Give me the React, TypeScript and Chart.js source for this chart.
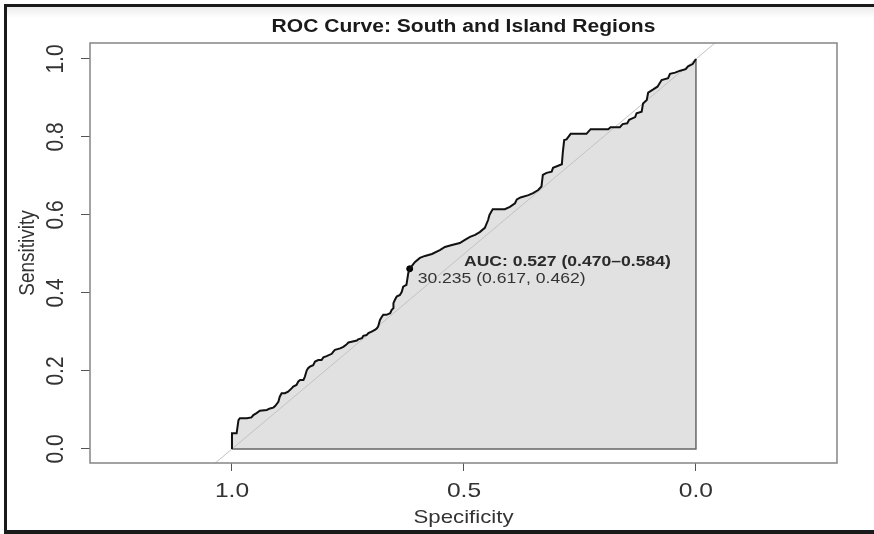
import React, { useEffect, useRef } from "react";
import { Chart, registerables } from "chart.js";

Chart.register(...registerables);

// ---- Data ----
const specificity = [
  1.0, 1.0, 0.99, 0.986, 0.983, 0.968, 0.958, 0.954, 0.947, 0.94, 0.925, 0.918, 0.911, 0.907,
  0.9, 0.897, 0.893, 0.886, 0.879, 0.871, 0.868, 0.861, 0.857, 0.853, 0.846, 0.843, 0.839,
  0.836, 0.832, 0.825, 0.821, 0.814, 0.807, 0.803, 0.796, 0.785, 0.782, 0.778, 0.767, 0.76,
  0.754, 0.749, 0.742, 0.731, 0.728, 0.72, 0.717, 0.71, 0.706, 0.699, 0.692, 0.688, 0.685,
  0.681, 0.677, 0.674, 0.667, 0.659, 0.656, 0.652, 0.652, 0.649, 0.645, 0.638, 0.634, 0.631,
  0.624, 0.62, 0.617, 0.606, 0.595, 0.584, 0.569, 0.552, 0.541, 0.526, 0.509, 0.498, 0.487,
  0.476, 0.466, 0.455, 0.448, 0.445, 0.438, 0.412, 0.401, 0.39, 0.386, 0.378, 0.361, 0.351,
  0.34, 0.333, 0.33, 0.322, 0.311, 0.308, 0.289, 0.287, 0.284, 0.279, 0.27, 0.236, 0.227,
  0.189, 0.184, 0.164, 0.158, 0.148, 0.144, 0.131, 0.128, 0.117, 0.114, 0.106, 0.103, 0.092,
  0.083, 0.074, 0.06, 0.056, 0.045, 0.034, 0.022, 0.017, 0.007, 0.0,
];
const sensitivity = [
  0.0, 0.04, 0.04, 0.074, 0.079, 0.079, 0.081, 0.087, 0.092, 0.098, 0.1, 0.104, 0.106, 0.11,
  0.121, 0.134, 0.143, 0.143, 0.147, 0.156, 0.16, 0.164, 0.173, 0.177, 0.177, 0.185, 0.201,
  0.207, 0.211, 0.215, 0.224, 0.228, 0.228, 0.235, 0.238, 0.244, 0.249, 0.254, 0.258, 0.262,
  0.267, 0.273, 0.275, 0.278, 0.281, 0.284, 0.29, 0.292, 0.297, 0.301, 0.305, 0.309, 0.314,
  0.331, 0.339, 0.344, 0.344, 0.348, 0.356, 0.361, 0.374, 0.382, 0.391, 0.395, 0.403, 0.416,
  0.421, 0.451, 0.462, 0.479, 0.49, 0.495, 0.5, 0.51, 0.518, 0.523, 0.528, 0.536, 0.544,
  0.549, 0.556, 0.567, 0.587, 0.6, 0.615, 0.615, 0.621, 0.63, 0.64, 0.645, 0.651, 0.656,
  0.664, 0.673, 0.703, 0.708, 0.711, 0.721, 0.73, 0.76, 0.792, 0.794, 0.808, 0.808, 0.82,
  0.82, 0.825, 0.825, 0.833, 0.835, 0.844, 0.851, 0.861, 0.865, 0.886, 0.895, 0.914, 0.922,
  0.929, 0.946, 0.951, 0.962, 0.965, 0.97, 0.974, 0.981, 0.987, 1.0,
];
const xTicks = [1.0, 0.5, 0.0];
const yTicks = [0.0, 0.2, 0.4, 0.6, 0.8, 1.0];
const thresholdValue = "30.235";
const thresholdSpec = 0.617;
const thresholdSens = 0.462;
const aucValue = "0.527";
const aucLow = "0.470";
const aucHigh = "0.584";
const titleText = "ROC Curve: South and Island Regions";
const xLabel = "Specificity";
const yLabel = "Sensitivity";

const FONT = '"Liberation Sans", Arial, Helvetica, sans-serif';
const SX = 1.17;

function drawText(
  ctx: CanvasRenderingContext2D,
  text: string,
  x: number,
  y: number,
  font: string,
  color: string,
  align: CanvasTextAlign,
  baseline: CanvasTextBaseline,
  rot = 0
) {
  ctx.save();
  ctx.translate(x, y);
  ctx.scale(SX, 1);
  if (rot) ctx.rotate(rot);
  ctx.font = font;
  ctx.fillStyle = color;
  ctx.textAlign = align;
  ctx.textBaseline = baseline;
  ctx.fillText(text, 0, 0);
  ctx.restore();
}

const decorPlugin = {
  id: "decor",
  beforeDraw(chart: any) {
    const ctx: CanvasRenderingContext2D = chart.ctx;
    const W = chart.width;
    const H = chart.height;
    ctx.save();
    ctx.fillStyle = "#ffffff";
    ctx.fillRect(0, 0, W, H);
    const g = ctx.createLinearGradient(0, 7, 0, 18);
    g.addColorStop(0, "#ececec");
    g.addColorStop(1, "#ffffff");
    ctx.fillStyle = g;
    ctx.fillRect(7, 7, W - 7, 11);
    ctx.fillStyle = "#1a1a1a";
    ctx.fillRect(4, 4, W - 4, 3);
    ctx.fillRect(4, 4, 3, H - 4);
    ctx.fillRect(4, H - 4, W - 4, 4);
    ctx.restore();
  },
  afterDraw(chart: any) {
    const ctx: CanvasRenderingContext2D = chart.ctx;
    const a = chart.chartArea;
    const xs = chart.scales.x;
    const ys = chart.scales.y;
    ctx.save();
    // plot box
    ctx.strokeStyle = "#858585";
    ctx.lineWidth = 1.5;
    ctx.strokeRect(a.left, a.top, a.right - a.left, a.bottom - a.top);
    ctx.restore();

    const tickFont = `21px ${FONT}`;
    const labelFont = `19px ${FONT}`;
    // x tick labels
    xTicks.forEach((v) => {
      drawText(ctx, v.toFixed(1), xs.getPixelForValue(v), a.bottom + 34, tickFont, "#333", "center", "alphabetic");
    });
    // y tick labels (rotated)
    yTicks.forEach((v) => {
      drawText(ctx, v.toFixed(1), a.left - 27, ys.getPixelForValue(v), tickFont, "#333", "center", "alphabetic", -Math.PI / 2);
    });
    // axis titles
    drawText(ctx, xLabel, (a.left + a.right) / 2, a.bottom + 60, labelFont, "#333", "center", "alphabetic");
    drawText(ctx, yLabel, 34, (a.top + a.bottom) / 2, labelFont, "#333", "center", "alphabetic", -Math.PI / 2);
    // title
    drawText(ctx, titleText, (a.left + a.right) / 2, 32, `bold 18px ${FONT}`, "#1a1a1a", "center", "alphabetic");
    // AUC text
    drawText(
      ctx,
      `AUC: ${aucValue} (${aucLow}\u2013${aucHigh})`,
      xs.getPixelForValue(0.5),
      ys.getPixelForValue(0.5) + 12,
      `bold 15px ${FONT}`,
      "#2a2a2a",
      "left",
      "alphabetic"
    );
    // threshold text
    drawText(
      ctx,
      `${thresholdValue} (${thresholdSpec.toFixed(3)}, ${thresholdSens.toFixed(3)})`,
      xs.getPixelForValue(thresholdSpec) + 8,
      ys.getPixelForValue(thresholdSens) + 14,
      `15px ${FONT}`,
      "#333",
      "left",
      "alphabetic"
    );
  },
};

export default function App() {
  const ref = useRef<HTMLCanvasElement | null>(null);
  useEffect(() => {
    if (!ref.current) return;
    const curve = specificity.map((s, i) => ({ x: s, y: sensitivity[i] }));
    const chart = new Chart(ref.current, {
      type: "scatter",
      data: {
        datasets: [
          {
            label: "ROC",
            data: curve,
            showLine: true,
            borderColor: "#111111",
            borderWidth: 2,
            pointRadius: 0,
            fill: false,
            tension: 0,
          },
          {
            label: "Threshold",
            data: [{ x: thresholdSpec, y: thresholdSens }],
            showLine: false,
            pointRadius: 3,
            pointBackgroundColor: "#000",
            pointBorderColor: "#000",
          },
          {
            label: "Identity",
            data: [
              { x: 1.1, y: -0.1 },
              { x: -0.1, y: 1.1 },
            ],
            showLine: true,
            borderColor: "#c2c2c2",
            borderWidth: 1,
            pointRadius: 0,
            fill: false,
          },
          {
            label: "Polygon border",
            data: [
              { x: 1, y: 0 },
              { x: 0, y: 0 },
              { x: 0, y: 1 },
            ],
            showLine: true,
            borderColor: "#666666",
            borderWidth: 1.5,
            pointRadius: 0,
            fill: false,
          },
          {
            label: "AUC area",
            data: curve,
            showLine: true,
            borderWidth: 0,
            borderColor: "rgba(0,0,0,0)",
            backgroundColor: "#e1e1e1",
            pointRadius: 0,
            fill: { value: 0 },
          },
        ],
      },
      options: {
        responsive: false,
        animation: false,
        devicePixelRatio: 1,
        layout: { padding: { left: 90, top: 43, right: 37, bottom: 71 } },
        plugins: {
          legend: { display: false },
          tooltip: { enabled: false },
          title: { display: false },
        },
        scales: {
          x: {
            type: "linear",
            reverse: true,
            min: -0.304,
            max: 1.306,
            afterBuildTicks: (s: any) => {
              s.ticks = xTicks.map((v) => ({ value: v }));
            },
            afterFit: (s: any) => {
              s.height = 0;
            },
            ticks: { display: false },
            grid: { drawOnChartArea: false, drawTicks: true, tickLength: 8, color: "#555", lineWidth: 1 },
            border: { display: false },
          },
          y: {
            type: "linear",
            min: -0.036,
            max: 1.041,
            afterBuildTicks: (s: any) => {
              s.ticks = yTicks.map((v) => ({ value: v }));
            },
            afterFit: (s: any) => {
              s.width = 0;
            },
            ticks: { display: false },
            grid: { drawOnChartArea: false, drawTicks: true, tickLength: 9, color: "#555", lineWidth: 1 },
            border: { display: false },
          },
        },
      },
      plugins: [decorPlugin],
    } as any);
    return () => chart.destroy();
  }, []);
  return (
    <div style={{ position: "absolute", left: 0, top: 0, width: 874, height: 534 }}>
      <canvas ref={ref} width={874} height={534} style={{ display: "block", width: 874, height: 534 }} />
    </div>
  );
}
